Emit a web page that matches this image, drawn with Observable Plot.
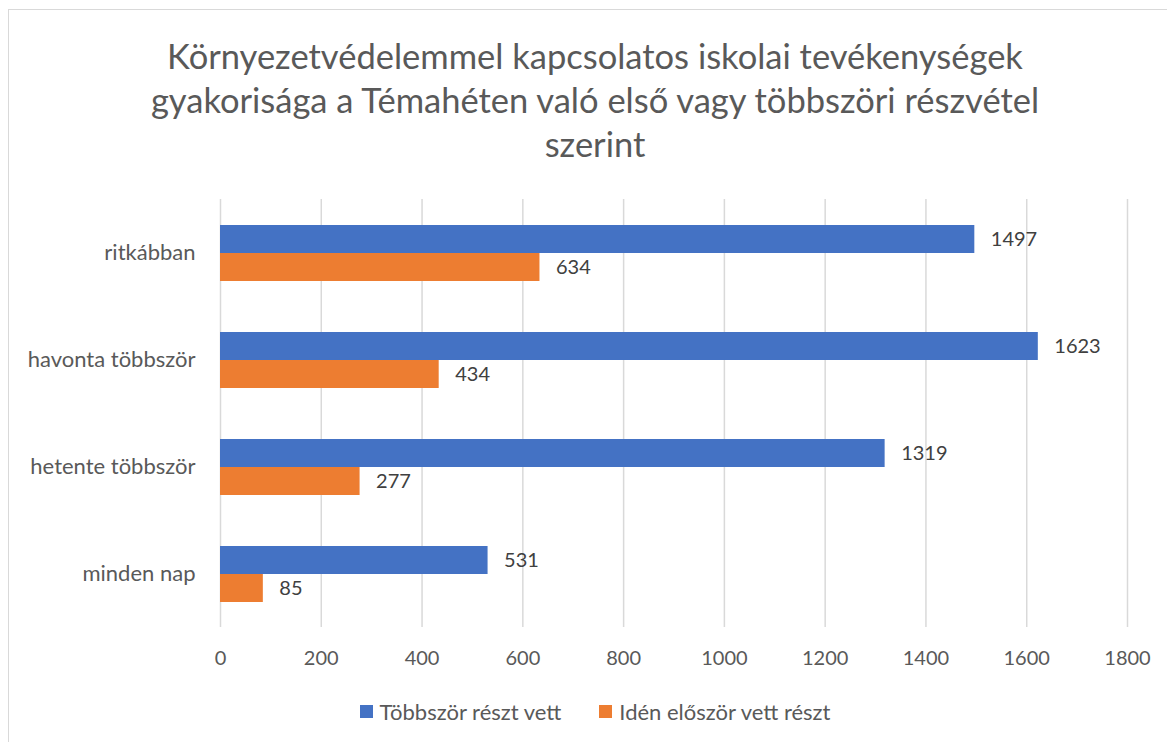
<!DOCTYPE html>
<html>
<head>
<meta charset="utf-8">
<script src="https://cdn.jsdelivr.net/npm/d3@7"></script>
<script src="https://cdn.jsdelivr.net/npm/@observablehq/plot@0.6"></script>
<style>
  body { margin: 0; background: #fff; font-family: Lato, "Open Sans", sans-serif; }
  #frame { position: absolute; left: 8px; top: 9px; width: 1174px; height: 760px; border: 1px solid #d9d9d9; box-sizing: border-box; }
  #title { position: absolute; left: 8px; width: 1174px; top: 34px; text-align: center; font-size: 34.5px; line-height: 44px; color: #595959; }
  #chart { position: absolute; left: 0; top: 189px; }
  #legend { position: absolute; left: 8px; width: 1174px; top: 698px; display: flex; justify-content: center; gap: 38px; font-size: 22px; color: #595959; }
  .item { display: flex; align-items: center; gap: 7px; }
  .sw { width: 13px; height: 13px; display: inline-block; }
</style>
</head>
<body>
<div id="frame"></div>
<div id="title">Környezetvédelemmel kapcsolatos iskolai tevékenységek<br>gyakorisága a Témahéten való első vagy többszöri részvétel<br>szerint</div>
<div id="chart"></div>
<div id="legend"></div>
<script>
const categories = ["ritkábban", "havonta többször", "hetente többször", "minden nap"];
const series = ["Többször részt vett", "Idén először vett részt"];
const tobbszor = [1497, 1623, 1319, 531];
const iden = [634, 434, 277, 85];
const colors = ["#4472C4", "#ED7D31"];
const xTicks = [0, 200, 400, 600, 800, 1000, 1200, 1400, 1600, 1800];

const data = [];
categories.forEach((c, i) => {
  data.push({category: c, series: series[0], value: tobbszor[i]});
  data.push({category: c, series: series[1], value: iden[i]});
});

const chart = Plot.plot({
  width: 1167,
  height: 493,
  marginLeft: 220,
  marginRight: 40,
  marginTop: 10,
  marginBottom: 55,
  style: {fontFamily: "Lato, 'Open Sans', sans-serif", fontSize: "20px", color: "#595959", background: "transparent"},
  x: {domain: [0, 1800], axis: null},
  y: {domain: series, paddingInner: 0, paddingOuter: 0.905, axis: null},
  fy: {domain: categories, padding: 0, axis: null},
  color: {domain: series, range: colors},
  marks: [
    Plot.gridX(xTicks, {stroke: "#d9d9d9", strokeOpacity: 1, strokeWidth: 1.5}),
    Plot.barX(data, {x: "value", y: "series", fy: "category", fill: "series"}),
    Plot.text(data, {x: "value", y: "series", fy: "category", text: d => String(d.value), dx: 16, textAnchor: "start", fontSize: 20, fill: "#404040"}),
    Plot.axisX({ticks: xTicks, tickSize: 0, tickPadding: 23, tickFormat: d => String(d), fontSize: 20, label: null, color: "#595959"}),
    Plot.axisFy({anchor: "left", tickSize: 0, tickPadding: 25, fontSize: 22, label: null, color: "#595959"})
  ]
});
document.getElementById("chart").appendChild(chart);

const legend = document.getElementById("legend");
series.forEach((s, i) => {
  const it = document.createElement("div");
  it.className = "item";
  it.innerHTML = `<span class="sw" style="background:${colors[i]}"></span><span>${s}</span>`;
  legend.appendChild(it);
});
</script>
</body>
</html>
